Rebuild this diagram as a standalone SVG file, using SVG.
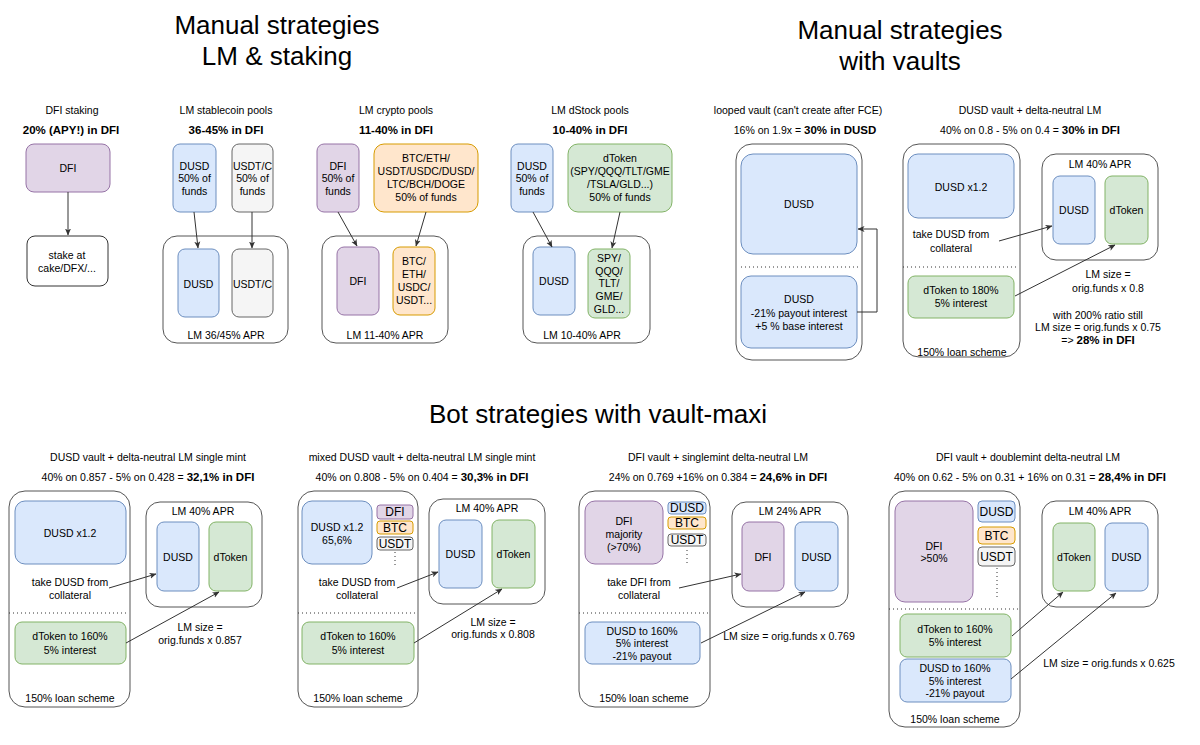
<svg xmlns="http://www.w3.org/2000/svg" width="1200" height="745" viewBox="0 0 1200 745">
<style>
text{font-family:"Liberation Sans",Arial,Helvetica,sans-serif;font-size:10.5px;fill:#000;text-anchor:middle;dominant-baseline:central}
.b{font-weight:bold;font-size:11.5px}
.h{font-size:26px;dominant-baseline:auto}
.s{font-size:12px}
.purple{fill:#e1d5e7;stroke:#9673a6}
.blue{fill:#dae8fc;stroke:#6c8ebf}
.green{fill:#d5e8d4;stroke:#82b366}
.orange{fill:#ffe6cc;stroke:#d79b00}
.gray{fill:#f5f5f5;stroke:#666666}
.plain{fill:#ffffff;stroke:#333333}
.cont{fill:#ffffff;stroke:#555555}
.edge{fill:none;stroke:#333333;stroke-width:1;marker-end:url(#arr)}
.dot{fill:none;stroke:#333333;stroke-width:1;stroke-dasharray:1 3}
</style>
<defs>
<marker id="arr" viewBox="0 0 7 7" markerWidth="7" markerHeight="7" refX="6.5" refY="3.5" orient="auto" markerUnits="userSpaceOnUse">
<path d="M0,0.5 L7,3.5 L0,6.5 L1.8,3.5 z" fill="#333333"/>
</marker>
</defs>
<rect width="1200" height="745" fill="#ffffff"/>

<g id="titles">
<text class="h" x="277" y="34">Manual strategies</text>
<text class="h" x="277" y="65">LM &amp; staking</text>
<text class="h" x="900" y="39">Manual strategies</text>
<text class="h" x="900" y="70">with vaults</text>
<text class="h" x="598" y="423">Bot strategies with vault-maxi</text>
</g>

<!-- ============ containers (drawn first) ============ -->
<g id="lm-stable-container"><rect class="cont" x="163" y="236" width="125" height="107" rx="14"/><text x="226" y="335">LM 36/45% APR</text></g>
<g id="lm-crypto-container"><rect class="cont" x="322" y="236" width="126" height="107" rx="14"/><text x="385" y="335">LM 11-40% APR</text></g>
<g id="lm-dstock-container"><rect class="cont" x="523" y="236" width="127" height="107" rx="14"/><text x="582" y="335">LM 10-40% APR</text></g>
<g id="looped-vault"><rect class="cont" x="736" y="144" width="126" height="216" rx="16"/></g>
<g id="dusd-vault"><rect class="cont" x="903" y="144" width="117" height="213" rx="16"/><text x="962" y="352">150% loan scheme</text></g>
<g id="dusd-vault-lm"><rect class="cont" x="1042" y="154" width="116" height="106" rx="14"/><text x="1100" y="164">LM 40% APR</text></g>

<g id="b1-vault"><rect class="cont" x="9" y="491" width="121" height="216" rx="16"/><text x="70" y="698">150% loan scheme</text></g>
<g id="b1-lm"><rect class="cont" x="146" y="502" width="116" height="105" rx="14"/><text x="203" y="511">LM 40% APR</text></g>
<g id="b2-vault"><rect class="cont" x="298" y="491" width="120" height="216" rx="16"/><text x="358" y="698">150% loan scheme</text></g>
<g id="b2-lm"><rect class="cont" x="429" y="499" width="116" height="105" rx="14"/><text x="487" y="508">LM 40% APR</text></g>
<g id="b3-vault"><rect class="cont" x="579" y="491" width="131" height="216" rx="16"/><text x="644" y="698">150% loan scheme</text></g>
<g id="b3-lm"><rect class="cont" x="732" y="502" width="116" height="105" rx="14"/><text x="790" y="511">LM 24% APR</text></g>
<g id="b4-vault"><rect class="cont" x="889" y="491" width="131" height="236" rx="16"/><text x="955" y="719">150% loan scheme</text></g>
<g id="b4-lm"><rect class="cont" x="1042" y="501" width="116" height="106" rx="14"/><text x="1100" y="511">LM 40% APR</text></g>

<!-- ============ section labels ============ -->
<g id="labels">
<text x="72" y="110">DFI staking</text>
<text class="b" x="71" y="130">20% (APY!) in DFI</text>
<text x="226" y="110">LM stablecoin pools</text>
<text class="b" x="226" y="130">36-45% in DFI</text>
<text x="396" y="110">LM crypto pools</text>
<text class="b" x="396" y="130">11-40% in DFI</text>
<text x="590" y="110">LM dStock pools</text>
<text class="b" x="590" y="130">10-40% in DFI</text>
<text x="798" y="110">looped vault (can't create after FCE)</text>
<text x="805" y="130">16% on 1.9x = <tspan class="b">30% in DUSD</tspan></text>
<text x="1030" y="110">DUSD vault + delta-neutral LM</text>
<text x="1030" y="130">40% on 0.8 - 5% on 0.4 = <tspan class="b">30% in DFI</tspan></text>
<text x="951" y="234">take DUSD from</text>
<text x="951" y="248">collateral</text>
<text x="1108" y="274">LM size =</text>
<text x="1108" y="288">orig.funds x 0.8</text>
<text x="1098" y="315">with 200% ratio still</text>
<text x="1098" y="327">LM size = orig.funds x 0.75</text>
<text x="1098" y="340">=&gt; <tspan class="b">28% in DFI</tspan></text>

<text x="148" y="457">DUSD vault + delta-neutral LM single mint</text>
<text x="148" y="477">40% on 0.857 - 5% on 0.428 = <tspan class="b">32,1% in DFI</tspan></text>
<text x="70" y="582">take DUSD from</text>
<text x="70" y="595">collateral</text>
<text x="200" y="627">LM size =</text>
<text x="200" y="640">orig.funds x 0.857</text>

<text x="422" y="457">mixed DUSD vault + delta-neutral LM single mint</text>
<text x="422" y="477">40% on 0.808 - 5% on 0.404 = <tspan class="b">30,3% in DFI</tspan></text>
<text x="357" y="582">take DUSD from</text>
<text x="357" y="595">collateral</text>
<text x="493" y="622">LM size =</text>
<text x="493" y="634">orig.funds x 0.808</text>

<text x="718" y="457">DFI vault + singlemint delta-neutral LM</text>
<text x="718" y="477">24% on 0.769 +16% on 0.384 = <tspan class="b">24,6% in DFI</tspan></text>
<text x="639" y="582">take DFI from</text>
<text x="639" y="595">collateral</text>
<text x="789" y="636">LM size = orig.funds x 0.769</text>

<text x="1028" y="457">DFI vault + doublemint delta-neutral LM</text>
<text x="1030" y="477">40% on 0.62 - 5% on 0.31 + 16% on 0.31 = <tspan class="b">28,4% in DFI</tspan></text>
<text x="1109" y="663">LM size = orig.funds x 0.625</text>
</g>

<!-- ============ top nodes ============ -->
<g id="dfi-stake-src"><rect class="purple" x="26" y="144" width="84" height="48" rx="8"/><text x="68" y="168">DFI</text></g>
<g id="stake-at"><rect class="plain" x="27" y="236" width="81" height="50" rx="8"/><text x="67" y="255">stake at</text><text x="67" y="268">cake/DFX/...</text></g>

<g id="stable-dusd"><rect class="blue" x="173" y="144" width="43" height="68" rx="7"/><text x="194.5" y="166">DUSD</text><text x="194.5" y="178">50% of</text><text x="194.5" y="191">funds</text></g>
<g id="stable-usdt"><rect class="gray" x="232" y="144" width="41" height="68" rx="7"/><text x="252.5" y="166">USDT/C</text><text x="252.5" y="178">50% of</text><text x="252.5" y="191">funds</text></g>
<g id="stable-lm-dusd"><rect class="blue" x="178" y="249" width="41" height="68" rx="7"/><text x="198.5" y="284">DUSD</text></g>
<g id="stable-lm-usdt"><rect class="gray" x="232" y="249" width="41" height="68" rx="7"/><text x="252.5" y="284">USDT/C</text></g>

<g id="crypto-dfi"><rect class="purple" x="317" y="144" width="42" height="68" rx="7"/><text x="338" y="166">DFI</text><text x="338" y="178">50% of</text><text x="338" y="191">funds</text></g>
<g id="crypto-btc"><rect class="orange" x="374" y="144" width="104" height="68" rx="10"/><text x="426" y="158">BTC/ETH/</text><text x="426" y="171">USDT/USDC/DUSD/</text><text x="426" y="184">LTC/BCH/DOGE</text><text x="426" y="197">50% of funds</text></g>
<g id="crypto-lm-dfi"><rect class="purple" x="337" y="247" width="42" height="68" rx="7"/><text x="358" y="281">DFI</text></g>
<g id="crypto-lm-btc"><rect class="orange" x="393" y="247" width="42" height="68" rx="7"/><text x="414" y="261">BTC/</text><text x="414" y="274">ETH/</text><text x="414" y="287">USDC/</text><text x="414" y="300">USDT...</text></g>

<g id="dstock-dusd"><rect class="blue" x="511" y="144" width="42" height="68" rx="7"/><text x="532" y="166">DUSD</text><text x="532" y="178">50% of</text><text x="532" y="191">funds</text></g>
<g id="dstock-dtoken"><rect class="green" x="568" y="144" width="104" height="68" rx="10"/><text x="620" y="158">dToken</text><text x="620" y="171">(SPY/QQQ/TLT/GME</text><text x="620" y="184">/TSLA/GLD...)</text><text x="620" y="197">50% of funds</text></g>
<g id="dstock-lm-dusd"><rect class="blue" x="533" y="247" width="42" height="68" rx="7"/><text x="554" y="281">DUSD</text></g>
<g id="dstock-lm-spy"><rect class="green" x="588" y="249" width="42" height="69" rx="7"/><text x="609" y="258">SPY/</text><text x="609" y="271">QQQ/</text><text x="609" y="283">TLT/</text><text x="609" y="296">GME/</text><text x="609" y="309">GLD...</text></g>

<g id="looped-dusd"><rect class="blue" x="741" y="154" width="116" height="100" rx="12"/><text x="799" y="204">DUSD</text></g>
<g id="looped-loan"><rect class="blue" x="741" y="276" width="116" height="72" rx="10"/><text x="799" y="299">DUSD</text><text x="799" y="313">-21% payout interest</text><text x="799" y="326">+5 % base interest</text></g>

<g id="dv-dusd"><rect class="blue" x="908" y="154" width="106" height="64" rx="10"/><text x="961" y="187">DUSD x1.2</text></g>
<g id="dv-dtoken-loan"><rect class="green" x="908" y="276" width="106" height="42" rx="7"/><text x="961" y="290">dToken to 180%</text><text x="961" y="303">5% interest</text></g>
<g id="dv-lm-dusd"><rect class="blue" x="1053" y="176" width="42" height="68" rx="7"/><text x="1074" y="210">DUSD</text></g>
<g id="dv-lm-dtoken"><rect class="green" x="1105" y="176" width="43" height="68" rx="7"/><text x="1126.5" y="210">dToken</text></g>

<!-- ============ bottom nodes ============ -->
<g id="b1-dusd"><rect class="blue" x="15" y="501" width="111" height="63" rx="10"/><text x="70" y="533">DUSD x1.2</text></g>
<g id="b1-loan"><rect class="green" x="15" y="622" width="111" height="42" rx="7"/><text x="70" y="636">dToken to 160%</text><text x="70" y="650">5% interest</text></g>
<g id="b1-lm-dusd"><rect class="blue" x="157" y="522" width="42" height="69" rx="7"/><text x="178" y="557">DUSD</text></g>
<g id="b1-lm-dtoken"><rect class="green" x="209" y="522" width="43" height="69" rx="7"/><text x="230.5" y="557">dToken</text></g>

<g id="b2-dusd"><rect class="blue" x="302" y="501" width="70" height="63" rx="10"/><text x="337" y="527">DUSD x1.2</text><text x="337" y="540">65,6%</text></g>
<g id="b2-dfi"><rect class="purple" x="377" y="505" width="36" height="14" rx="3"/><text class="s" x="395" y="512">DFI</text></g>
<g id="b2-btc"><rect class="orange" x="377" y="521" width="36" height="13" rx="3"/><text class="s" x="395" y="527.5">BTC</text></g>
<g id="b2-usdt"><rect class="gray" x="377" y="537" width="36" height="13" rx="3"/><text class="s" x="395" y="543.5">USDT</text></g>
<g id="b2-loan"><rect class="green" x="302" y="622" width="112" height="42" rx="7"/><text x="358" y="636">dToken to 160%</text><text x="358" y="650">5% interest</text></g>
<g id="b2-lm-dusd"><rect class="blue" x="439" y="520" width="43" height="68" rx="7"/><text x="460.5" y="554">DUSD</text></g>
<g id="b2-lm-dtoken"><rect class="green" x="492" y="520" width="43" height="68" rx="7"/><text x="513.5" y="554">dToken</text></g>

<g id="b3-dfi"><rect class="purple" x="585" y="501" width="78" height="63" rx="10"/><text x="624" y="521">DFI</text><text x="624" y="534">majority</text><text x="624" y="547">(&gt;70%)</text></g>
<g id="b3-dusd-s"><rect class="blue" x="668" y="502" width="38" height="12" rx="3"/><text class="s" x="687" y="508">DUSD</text></g>
<g id="b3-btc"><rect class="orange" x="668" y="517" width="38" height="12" rx="3"/><text class="s" x="687" y="523">BTC</text></g>
<g id="b3-usdt"><rect class="gray" x="668" y="534" width="38" height="12" rx="3"/><text class="s" x="687" y="540">USDT</text></g>
<g id="b3-loan"><rect class="blue" x="585" y="622" width="115" height="42" rx="7"/><text x="642" y="631">DUSD to 160%</text><text x="642" y="643">5% interest</text><text x="642" y="656">-21% payout</text></g>
<g id="b3-lm-dfi"><rect class="purple" x="742" y="522" width="42" height="69" rx="7"/><text x="763" y="557">DFI</text></g>
<g id="b3-lm-dusd"><rect class="blue" x="795" y="522" width="43" height="69" rx="7"/><text x="816.5" y="557">DUSD</text></g>

<g id="b4-dfi"><rect class="purple" x="895" y="501" width="78" height="101" rx="10"/><text x="934" y="546">DFI</text><text x="934" y="558">&gt;50%</text></g>
<g id="b4-dusd-s"><rect class="blue" x="978" y="501" width="37" height="21" rx="4"/><text class="s" x="996.5" y="511.5">DUSD</text></g>
<g id="b4-btc"><rect class="orange" x="978" y="527" width="37" height="17" rx="4"/><text class="s" x="996.5" y="535.5">BTC</text></g>
<g id="b4-usdt"><rect class="gray" x="978" y="547" width="37" height="19" rx="4"/><text class="s" x="996.5" y="556.5">USDT</text></g>
<g id="b4-loan-dtoken"><rect class="green" x="900" y="614" width="111" height="43" rx="7"/><text x="955" y="629">dToken to 160%</text><text x="955" y="642">5% interest</text></g>
<g id="b4-loan-dusd"><rect class="blue" x="900" y="659" width="111" height="43" rx="7"/><text x="955" y="668">DUSD to 160%</text><text x="955" y="681">5% interest</text><text x="955" y="693">-21% payout</text></g>
<g id="b4-lm-dtoken"><rect class="green" x="1053" y="523" width="42" height="68" rx="7"/><text x="1074" y="557">dToken</text></g>
<g id="b4-lm-dusd"><rect class="blue" x="1105" y="523" width="43" height="68" rx="7"/><text x="1126.5" y="557">DUSD</text></g>

<!-- ============ dotted separators ============ -->
<g id="separators">
<path class="dot" d="M741,267 L859,267"/>
<path class="dot" d="M903,267 L1018,267"/>
<path class="dot" d="M9,613 L128,613"/>
<path class="dot" d="M298,613 L417,613"/>
<path class="dot" d="M395,552 L395,566"/>
<path class="dot" d="M579,613 L710,613"/>
<path class="dot" d="M687,550 L687,563"/>
<path class="dot" d="M889,609 L1019,609"/>
<path class="dot" d="M997,568 L997,598"/>
</g>

<!-- ============ connectors ============ -->
<g id="connectors">
<path class="edge" d="M68,192 L68,235"/>
<path class="edge" d="M194,212 L198,248"/>
<path class="edge" d="M252,212 L252,248"/>
<path class="edge" d="M338,212 L357,246"/>
<path class="edge" d="M426,212 L416,246"/>
<path class="edge" d="M533,212 L552,247"/>
<path class="edge" d="M620,212 L612,248"/>
<path class="edge" d="M857,312 L877,312 L877,229 L858,229"/>
<path class="edge" d="M999,241 L1052,226"/>
<path class="edge" d="M1015,296 L1115,245"/>
<path class="edge" d="M109,588 L156,574"/>
<path class="edge" d="M126,643 L219,592"/>
<path class="edge" d="M397,588 L438,572"/>
<path class="edge" d="M414,643 L502,589"/>
<path class="edge" d="M679,588 L741,574"/>
<path class="edge" d="M701,643 L805,592"/>
<path class="edge" d="M1012,636 L1063,592"/>
<path class="edge" d="M1011,679 L1116,593"/>
</g>
</svg>
